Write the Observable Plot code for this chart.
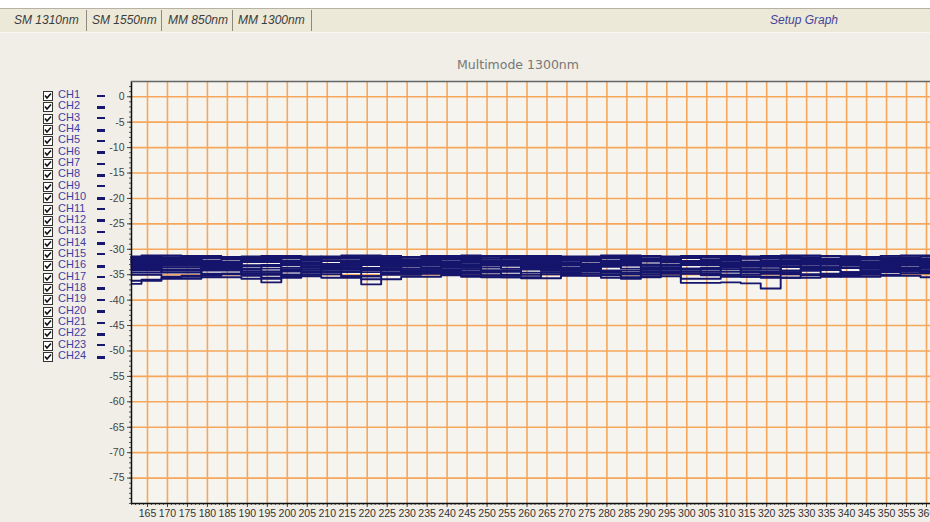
<!DOCTYPE html>
<html>
<head>
<meta charset="utf-8">
<script src="https://cdn.jsdelivr.net/npm/d3@7"></script>
<script src="https://cdn.jsdelivr.net/npm/@observablehq/plot@0.6"></script>
<style>
  html, body { margin: 0; padding: 0; width: 930px; height: 522px; overflow: hidden; background: #f0eee6; font-family: "Liberation Sans", Arial, sans-serif; }
  #wrap { position: relative; width: 930px; height: 522px; }
  #chart { position: absolute; left: 0; top: 0; }
  #topwhite { position: absolute; left: 0; top: 0; width: 930px; height: 8px; background: #fff; }
  #tabbar { position: absolute; left: 0; top: 8px; width: 930px; height: 23px; background: #ece9d8; border-top: 1px solid #b5b2a5; border-bottom: 1px solid #f8f7f2; }
  .tab { position: absolute; top: 4px; font-style: italic; font-size: 12px; color: #3c3c3c; white-space: nowrap; }
  .sep { position: absolute; top: 1px; width: 1px; height: 21px; background: #8c8a80; }
  #setup { position: absolute; left: 770px; top: 4px; font-style: italic; font-size: 12px; color: #44449a; }
  #title { position: absolute; left: 0; width: 1036px; top: 57px; text-align: center; font-family: "DejaVu Sans", sans-serif; font-size: 12.5px; color: #777; }
  #legend { position: absolute; left: 0; top: 0; }
  .row { position: absolute; left: 43px; height: 11px; }
  .box { position: absolute; left: 0; top: 1px; }
  .lab { position: absolute; left: 15px; top: -2px; font-size: 11px; color: #3f3fa3; white-space: nowrap; }
  .dash { position: absolute; left: 54px; width: 8px; background: #18186e; }
</style>
</head>
<body>
<div id="wrap">
  <div id="chart"></div>
  <div id="topwhite"></div>
  <div id="tabbar"></div>
  <div id="title"></div>
  <div id="legend"></div>
</div>
<script>
// ---- data ----
const tabLabels = ["SM 1310nm", "SM 1550nm", "MM 850nm", "MM 1300nm"];
const tabX = [14, 92, 168, 238];
const sepX = [86, 161, 232, 311];
const setupLabel = "Setup Graph";
const chartTitle = "Multimode 1300nm";
const channelNames = Array.from({length: 24}, (_, i) => "CH" + (i + 1));
const xTicks = d3.range(165, 361, 5);
const yTicks = d3.range(-75, 1, 5);
const xs = [161,166,171,176,181,186,191,196,201,206,211,216,221,226,231,236,241,246,251,256,261,266,271,276,281,286,291,296,301,306,311,316,321,326,331,336,341,346,351,356,361];

const ch1 = [-31.4,-31.4,-31.6,-31.6,-31.3,-31.5,-31.5,-31.7,-31.4,-31.4,-31.6,-31.6,-31.3,-31.3,-31.5,-31.5,-31.7,-31.4,-31.4,-31.5,-31.5,-31.3,-31.6,-31.6,-31.4,-31.4,-31.3,-31.5,-31.5,-31.6,-31.4,-31.4,-31.3,-31.6,-31.6,-31.4,-31.4,-31.5,-31.3,-31.3,-31.4];
const ch2 = [-32.0,-32.0,-31.8,-32.2,-32.2,-31.9,-31.9,-32.3,-32.3,-32.0,-31.8,-31.8,-32.1,-32.4,-32.4,-32.0,-32.0,-31.9,-32.2,-32.2,-31.8,-31.8,-32.1,-32.1,-32.3,-31.9,-31.9,-32.0,-32.3,-32.3,-32.0,-31.8,-31.8,-32.2,-32.2,-32.0,-32.4,-32.4,-31.9,-31.9,-32.0];
const ch3 = [-32.5,-32.5,-32.2,-32.2,-33.0,-33.0,-32.4,-32.4,-32.6,-33.4,-33.4,-32.5,-32.5,-32.3,-32.3,-32.8,-32.8,-32.4,-32.4,-33.2,-33.2,-32.6,-32.6,-32.3,-32.3,-33.0,-33.0,-32.5,-32.5,-32.2,-32.2,-32.9,-32.9,-32.5,-33.5,-33.5,-32.6,-32.6,-32.4,-32.4,-32.5];
const ch4 = [-33.2,-33.2,-33.0,-33.0,-33.6,-33.6,-33.8,-33.1,-33.1,-33.0,-33.0,-33.7,-33.7,-33.3,-33.3,-33.0,-33.9,-33.9,-33.2,-33.2,-33.0,-33.0,-33.6,-33.6,-33.4,-33.1,-33.1,-33.0,-33.8,-33.8,-33.3,-33.3,-33.0,-33.0,-33.5,-33.5,-33.2,-33.2,-33.7,-33.7,-33.3];
const ch5 = [-36.8,-36.0,-35.6,-35.2,-35.2,-34.8,-34.8,-35.0,-35.0,-34.5,-34.5,-35.3,-35.3,-34.8,-34.8,-34.2,-34.2,-34.6,-34.6,-35.0,-35.0,-34.5,-34.5,-34.3,-34.3,-34.9,-34.9,-34.4,-34.4,-35.1,-35.1,-34.6,-34.6,-34.2,-34.2,-34.8,-34.8,-34.5,-34.5,-34.3,-34.3];
const ch6 = [-33.0,-33.0,-32.6,-32.6,-33.3,-33.3,-34.0,-36.5,-34.2,-33.0,-33.0,-32.7,-32.7,-33.4,-33.4,-32.8,-32.8,-33.6,-33.6,-33.0,-33.0,-32.6,-32.6,-33.2,-33.2,-33.8,-33.8,-33.1,-33.1,-32.7,-32.7,-33.4,-33.4,-33.0,-33.0,-32.6,-32.6,-33.3,-33.3,-32.9,-32.9];
const ch7 = [-32.2,-32.2,-32.8,-32.8,-32.4,-32.4,-33.2,-33.2,-32.6,-32.6,-32.3,-34.5,-36.9,-34.0,-32.8,-32.8,-32.4,-32.4,-33.0,-33.0,-32.5,-32.5,-32.2,-32.2,-32.9,-32.9,-32.4,-32.4,-33.1,-33.1,-32.6,-32.6,-32.3,-32.3,-32.8,-32.8,-32.5,-32.5,-33.0,-33.0,-32.6];
const ch8 = [-34.0,-34.0,-33.6,-33.6,-34.2,-34.2,-33.8,-33.8,-34.4,-34.4,-34.0,-34.0,-33.7,-33.7,-34.3,-34.3,-34.7,-34.7,-34.1,-34.1,-33.8,-33.8,-34.2,-34.2,-34.6,-34.6,-34.0,-34.0,-36.6,-36.6,-36.5,-36.7,-37.7,-35.6,-35.6,-35.4,-34.5,-34.5,-34.3,-34.3,-34.6];
const ch9 = [-31.8,-31.8,-32.2,-32.2,-31.7,-31.7,-32.0,-32.0,-32.4,-31.8,-31.8,-31.6,-31.6,-32.1,-32.1,-31.9,-31.9,-32.3,-32.3,-31.7,-31.7,-32.0,-32.0,-31.8,-31.8,-32.2,-32.2,-31.6,-31.6,-32.0,-32.0,-32.4,-32.4,-31.8,-31.8,-32.1,-32.1,-31.7,-31.7,-32.0,-32.0];
const ch10 = [-33.5,-33.5,-34.0,-34.0,-33.3,-33.3,-34.4,-34.4,-33.6,-33.6,-33.2,-33.2,-33.9,-33.9,-34.5,-33.5,-33.5,-33.0,-33.0,-33.8,-33.8,-34.2,-34.2,-33.4,-33.4,-33.1,-33.1,-34.0,-34.0,-33.6,-33.6,-34.3,-34.3,-33.5,-33.5,-33.0,-33.0,-33.8,-33.8,-34.1,-34.1];
const ch11 = [-35.0,-35.0,-35.4,-35.4,-34.8,-34.8,-35.2,-35.6,-35.6,-34.9,-34.9,-35.3,-35.3,-35.0,-35.0,-34.6,-34.6,-35.2,-35.2,-35.5,-35.5,-34.9,-34.9,-35.1,-35.1,-35.5,-35.5,-34.8,-34.8,-35.0,-35.0,-35.4,-35.4,-34.9,-34.9,-35.2,-35.2,-35.0,-35.0,-34.7,-34.7];
const ch12 = [-31.5,-31.2,-31.2,-31.4,-31.4,-31.7,-31.7,-31.3,-31.3,-31.5,-31.5,-31.2,-31.2,-31.6,-31.6,-31.3,-31.3,-31.2,-31.5,-31.5,-31.3,-31.3,-31.6,-31.6,-31.2,-31.2,-31.4,-31.4,-31.7,-31.3,-31.3,-31.5,-31.5,-31.2,-31.2,-31.4,-31.4,-31.6,-31.6,-31.2,-31.2];
const ch13 = [-32.6,-32.6,-33.2,-33.2,-32.8,-32.8,-32.4,-32.4,-33.0,-33.0,-33.5,-33.5,-32.7,-32.7,-32.3,-32.3,-33.1,-33.1,-32.6,-32.6,-33.3,-33.3,-32.9,-32.9,-32.4,-32.4,-33.2,-33.2,-32.7,-32.7,-33.4,-33.4,-32.8,-32.8,-32.5,-32.5,-33.0,-33.0,-32.6,-32.6,-33.2];
const ch14 = [-34.2,-34.2,-34.6,-34.6,-34.0,-34.0,-34.8,-34.8,-34.3,-34.3,-33.8,-33.8,-34.5,-34.5,-34.1,-34.1,-34.9,-35.4,-34.4,-34.4,-33.9,-33.9,-34.7,-34.7,-34.2,-34.2,-34.6,-34.6,-34.0,-34.0,-34.4,-34.4,-34.8,-34.8,-34.1,-34.1,-34.5,-34.5,-33.9,-33.9,-34.3];
const ch15 = [-32.3,-32.3,-31.9,-31.9,-32.5,-32.5,-32.0,-32.0,-31.7,-31.7,-32.2,-32.2,-32.6,-32.6,-32.0,-32.0,-31.8,-31.8,-32.4,-32.4,-32.1,-32.1,-31.7,-31.7,-32.5,-32.5,-32.0,-32.0,-32.3,-32.3,-31.8,-31.8,-32.2,-32.2,-32.6,-32.6,-32.0,-32.0,-31.8,-31.8,-32.3];
const ch16 = [-33.4,-33.4,-32.9,-32.9,-33.7,-33.7,-33.2,-33.2,-34.0,-34.0,-33.5,-33.5,-33.0,-33.0,-33.8,-33.8,-33.3,-33.3,-32.9,-32.9,-33.6,-33.6,-34.0,-34.0,-33.2,-33.2,-33.7,-33.7,-33.1,-33.1,-33.9,-33.9,-33.4,-33.4,-33.0,-33.0,-33.6,-33.6,-33.2,-33.2,-33.5];
const ch17 = [-36.2,-36.2,-35.8,-35.8,-35.5,-35.5,-35.8,-35.8,-35.3,-35.3,-35.6,-35.6,-35.9,-35.9,-35.4,-35.4,-35.1,-35.1,-35.5,-35.5,-35.7,-35.7,-35.2,-35.2,-35.6,-35.6,-35.3,-35.3,-35.8,-35.8,-35.4,-35.4,-35.6,-35.6,-35.1,-35.1,-35.4,-35.4,-35.2,-35.2,-35.5];
const ch18 = [-32.4,-32.4,-32.0,-32.0,-32.7,-32.7,-32.2,-32.2,-32.9,-32.9,-32.3,-32.3,-32.0,-32.0,-32.6,-32.6,-33.0,-33.0,-32.4,-32.4,-32.1,-32.1,-32.8,-32.8,-32.3,-32.3,-32.0,-32.0,-32.6,-32.6,-33.0,-33.0,-32.4,-32.4,-32.1,-32.1,-32.7,-32.7,-32.3,-32.3,-32.5];
const ch19 = [-33.8,-33.8,-34.2,-34.2,-33.6,-33.6,-34.4,-34.4,-33.9,-33.9,-34.3,-34.3,-33.7,-33.7,-34.1,-34.1,-33.6,-33.6,-34.4,-34.4,-34.0,-34.0,-33.7,-33.7,-34.2,-35.8,-34.3,-33.8,-33.8,-34.4,-34.4,-33.9,-33.9,-34.2,-34.2,-33.7,-33.7,-34.1,-34.1,-33.8,-33.8];
const ch20 = [-31.7,-31.7,-31.9,-31.9,-31.6,-31.6,-32.0,-32.0,-31.7,-31.7,-31.5,-31.5,-31.8,-31.8,-32.0,-32.0,-31.6,-31.6,-31.8,-31.8,-31.5,-31.5,-31.9,-31.9,-31.7,-31.7,-32.0,-32.0,-31.6,-31.6,-31.8,-31.8,-31.5,-31.5,-31.9,-31.9,-31.7,-31.7,-31.6,-31.6,-31.8];
const ch21 = [-33.0,-33.0,-33.5,-33.5,-32.8,-32.8,-33.3,-33.3,-32.6,-32.6,-33.6,-33.6,-33.1,-33.1,-32.7,-32.7,-33.4,-33.4,-32.9,-32.9,-33.7,-33.7,-33.2,-33.2,-32.8,-32.8,-33.5,-33.5,-33.0,-33.0,-32.6,-32.6,-33.3,-34.6,-33.8,-33.8,-33.1,-33.1,-33.6,-33.6,-33.0];
const ch22 = [-34.6,-34.6,-34.2,-34.2,-34.9,-34.9,-34.4,-34.4,-35.0,-35.0,-34.5,-34.5,-34.1,-34.1,-34.8,-34.8,-34.3,-34.3,-35.1,-35.1,-34.6,-34.6,-34.2,-34.2,-34.9,-34.9,-34.4,-34.4,-34.7,-34.7,-35.0,-35.0,-34.5,-34.5,-34.1,-34.1,-34.8,-34.8,-34.4,-34.4,-34.6];
const ch23 = [-31.5,-31.5,-31.3,-31.3,-31.6,-31.6,-31.4,-31.4,-31.7,-31.7,-31.4,-31.4,-31.3,-31.3,-31.6,-31.6,-31.5,-31.5,-31.3,-31.3,-31.6,-31.6,-31.4,-31.4,-31.7,-31.7,-31.5,-31.5,-31.3,-31.3,-31.6,-31.6,-31.4,-31.4,-31.3,-31.3,-31.5,-31.5,-31.7,-31.7,-31.4];
const ch24 = [-32.8,-32.8,-32.3,-32.3,-33.0,-33.0,-32.5,-32.5,-32.2,-32.2,-32.9,-32.9,-32.4,-32.4,-33.1,-33.1,-32.6,-32.6,-32.2,-32.2,-32.8,-32.8,-33.0,-33.0,-32.5,-32.5,-32.1,-32.1,-32.7,-32.7,-33.2,-33.2,-32.6,-32.6,-32.3,-32.3,-33.6,-34.2,-32.8,-32.8,-32.5];

const series = [ch1,ch2,ch3,ch4,ch5,ch6,ch7,ch8,ch9,ch10,ch11,ch12,ch13,ch14,ch15,ch16,ch17,ch18,ch19,ch20,ch21,ch22,ch23,ch24];
const table = series.flatMap((vals, k) => vals.map((v, i) => ({ch: channelNames[k], x: xs[i], y: v})));

// ---- chart ----
const orange = "#f6a75c";
const chart = Plot.plot({
  width: 930,
  height: 522,
  marginTop: 81,
  marginBottom: 19,
  marginLeft: 131,
  marginRight: 0,
  style: {background: "transparent", fontFamily: "'Liberation Sans', Arial, sans-serif", fontSize: "10.5px", color: "#333", overflow: "visible"},
  x: {domain: [161, 361], label: null},
  y: {domain: [-80, 3], label: null},
  marks: [
    Plot.frame({fill: "#f6f4ee", stroke: null}),
    Plot.ruleY(yTicks, {stroke: orange, strokeWidth: 1.6}),
    Plot.ruleX(xTicks, {stroke: orange, strokeWidth: 1.6}),
    Plot.line(table, {x: "x", y: "y", z: "ch", stroke: "#15156c", strokeWidth: 1.9, curve: "step"}),
    Plot.axisY(d3.range(-80, 3, 1), {tickSize: 2, tickFormat: () => "", stroke: "#555"}),
    Plot.axisX(d3.range(161, 362, 1), {tickSize: 2, tickFormat: () => "", stroke: "#555"}),
    Plot.axisY(yTicks, {tickSize: 4, tickPadding: 3, tickFormat: d => String(d), stroke: "#444", fill: "#444"}),
    Plot.axisX(xTicks, {tickSize: 4, tickPadding: 2, tickFormat: d => String(d), stroke: "#444", fill: "#333"}),
    Plot.ruleX([161], {stroke: "#111", strokeWidth: 1.5}),
    Plot.ruleY([-80], {stroke: "#111", strokeWidth: 1.5}),
    Plot.ruleY([3], {stroke: "#666", strokeWidth: 1.5})
  ]
});
document.getElementById("chart").appendChild(chart);

// ---- tabs ----
const bar = d3.select("#tabbar");
tabLabels.forEach((t, i) => bar.append("div").attr("class", "tab").style("left", tabX[i] + "px").text(t));
sepX.forEach(x => bar.append("div").attr("class", "sep").style("left", x + "px"));
bar.append("div").attr("id", "setup").text(setupLabel);

d3.select("#title").text(chartTitle);

// ---- legend ----
const lg = d3.select("#legend");
channelNames.forEach((name, i) => {
  const row = lg.append("div").attr("class", "row").style("top", (90 + i * 11.35) + "px");
  const svg = row.append("svg").attr("class", "box").attr("width", 10).attr("height", 10);
  svg.append("rect").attr("x", 0.5).attr("y", 0.5).attr("width", 9).attr("height", 9).attr("fill", "#fff").attr("stroke", "#333");
  svg.append("path").attr("d", "M2,4.5 L4,7 L8,2.5").attr("fill", "none").attr("stroke", "#111").attr("stroke-width", 1.6);
  row.append("div").attr("class", "lab").text(name);
  row.append("div").attr("class", "dash").style("top", (i % 3 === 0 ? 5 : 4.5) + "px").style("height", (i % 2 === 0 ? 2 : 3) + "px");
});
</script>
</body>
</html>
